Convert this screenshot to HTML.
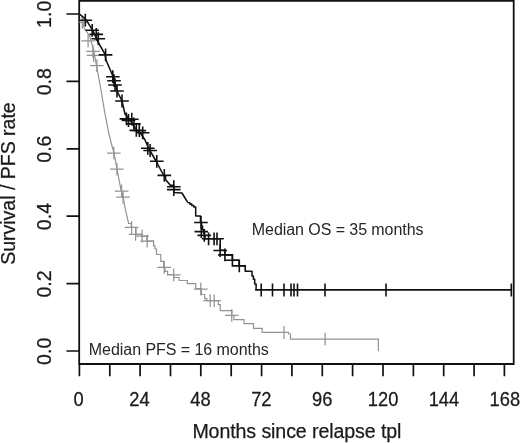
<!DOCTYPE html>
<html><head><meta charset="utf-8"><title>Survival / PFS</title>
<style>
html,body{margin:0;padding:0;background:#fff}
svg{display:block;filter:grayscale(1) blur(0.3px)}
text{font-family:"Liberation Sans",Arial,sans-serif;fill:#1a1a1a}
.ax{font-size:19.6px}
.tk{font-size:18.3px}
.ax text{stroke:#1a1a1a;stroke-width:0.25px}
.an{font-size:16px}
.an text{fill:#262626}
</style></head><body>
<svg width="520" height="443" viewBox="0 0 520 443">
<rect width="520" height="443" fill="#fff"/>
<path d="M79.2 0.75H513.7V364H79.2Z" fill="none" stroke="#111" stroke-width="1.8"/>
<clipPath id="cp"><rect x="79.2" y="0.75" width="434.5" height="363.25"/></clipPath>
<g clip-path="url(#cp)" fill="none">
<path d="M79.4 14.0L82.0 16.5L84.0 28.0L89.6 35.8L93.5 49.6L96.5 66.0L101.0 90.0L105.0 114.0L109.0 134.0L112.0 146.0L114.0 153.0L117.0 169.0L121.0 190.0L123.1 197.0L125.2 208.6L128.6 223.5H131.3V227.5M131.3 227.5H136.0V234.3H142.1V236.3H146.8V241.1H153.6V245.8H155.0V249.0H156.5V254.5H160.8V261.3H163.6V267.4H164.9V271.4H167.6V274.5H173.7V277.5H179.1V280.5H187.3V283.6H195.8V288.6H201.4V294.5H204.7V298.6H206.8V300.6H218.3V304.6H220.3V310.7H231.8V315.5H233.9V319.6H244.0V323.6H253.5V328.4H262.1V332.3H288.5V334.0H290.5V339.2H378.4V351.2" stroke="#939393" stroke-width="1.2"/>
<path d="M75.5 22.3h13.6M82.3 15.9v12.8M81.3 40.9h13.6M88.1 34.5v12.8M86.1 51.3h13.6M92.9 44.9v12.8M86.8 55.4h13.6M93.6 49.0v12.8M90.1 65.6h13.6M96.9 59.2v12.8M107.0 153.1h13.6M113.8 146.7v12.8M110.1 169.1h13.6M116.9 162.7v12.8M114.8 191.0h13.6M121.6 184.6v12.8M116.3 197.0h13.6M123.1 190.6v12.8M124.8 227.3h13.6M131.6 220.9v12.8M128.8 234.3h13.6M135.6 227.9v12.8M135.3 236.0h13.6M142.1 229.6v12.8M140.4 241.1h13.6M147.2 234.7v12.8M157.4 267.4h13.6M164.2 261.0v12.8M166.9 274.8h13.6M173.7 268.4v12.8M194.0 289.0h13.6M200.8 282.6v12.8M203.4 300.6h13.6M210.2 294.2v12.8M207.4 300.6h13.6M214.2 294.2v12.8M225.0 315.3h13.6M231.8 308.9v12.8M284.0 326.1v12.8M325.1 332.8v12.8" stroke="#939393" stroke-width="1.25"/>
<path d="M79.4 14.0L82.0 16.0L86.5 20.4L93.5 31.9L98.0 42.0L105.0 54.2L106.0 60.0L112.0 74.0L115.0 82.0L117.0 91.0L122.0 101.0L125.0 114.0L130.0 120.0L135.0 128.0L141.0 134.0L145.0 140.0L149.0 149.0L156.0 161.0L164.0 176.0H165.5V179.4L170.4 185.2H173.8V187.0V192.5L182.0 193.0L185.0 198.0L187.9 202.7M187.9 202.7H189.9V204.1H191.8V205.5H193.8V206.9H195.7V208.3V216.0H200.5V222.3H201.5V226.0H202.5V229.5H203.5V233.0H204.5V236.0H205.0V238.8H219.6H220.2V250.2H224.9V254.9H232.4V260.3H239.1V265.7H245.2V271.2H252.0V275.9H253.4V279.3H254.7V284.0H256.1V289.9" stroke="#111" stroke-width="1.55" stroke-linejoin="round"/>
<path d="M255.2 289.9H511.3" stroke="#111" stroke-width="1.9"/>
<path d="M78.5 20.2h13.6M85.3 13.8v12.8M85.4 30.3h13.6M92.2 23.9v12.8M89.5 34.4h13.6M96.3 28.0v12.8M91.5 38.7h13.6M98.3 32.3v12.8M98.8 54.9h13.6M105.6 48.5v12.8M106.0 76.7h13.6M112.8 70.3v12.8M107.2 80.7h13.6M114.0 74.3v12.8M108.2 85.0h13.6M115.0 78.6v12.8M110.2 91.0h13.6M117.0 84.6v12.8M115.2 101.0h13.6M122.0 94.6v12.8M119.6 118.9h13.6M126.4 112.5v12.8M121.7 120.5h13.6M128.5 114.1v12.8M125.0 119.2h13.6M131.8 112.8v12.8M127.1 123.9h13.6M133.9 117.5v12.8M129.5 130.4h13.6M136.3 124.0v12.8M132.5 130.6h13.6M139.3 124.2v12.8M135.9 132.8h13.6M142.7 126.4v12.8M141.0 148.3h13.6M147.8 141.9v12.8M143.3 150.5h13.6M150.1 144.1v12.8M150.0 161.3h13.6M156.8 154.9v12.8M157.5 175.4h13.6M164.3 169.0v12.8M167.0 186.7h13.6M173.8 180.3v12.8M167.0 189.6h13.6M173.8 183.2v12.8M194.2 222.5h13.6M201.0 216.1v12.8M194.5 231.6h13.6M201.3 225.2v12.8M197.5 235.4h13.6M204.3 229.0v12.8M201.8 238.8h13.6M208.6 232.4v12.8M207.3 238.8h13.6M214.1 232.4v12.8M210.2 238.8h13.6M217.0 232.4v12.8M213.4 250.5h13.6M220.2 244.1v12.8M218.1 254.9h13.6M224.9 248.5v12.8M225.6 260.3h13.6M232.4 253.9v12.8M232.5 265.9h13.6M239.3 259.5v12.8M261.2 283.6v12.8M272.5 283.6v12.8M284.0 283.6v12.8M291.0 283.6v12.8M294.0 283.6v12.8M297.5 283.6v12.8M325.0 283.6v12.8M386.0 283.6v12.8M511.3 283.6v12.8" stroke="#111" stroke-width="1.6"/>
</g>
<path d="M79.4 364v12.2M109.8 364v12.2M140.1 364v12.2M170.5 364v12.2M200.8 364v12.2M231.2 364v12.2M261.6 364v12.2M291.9 364v12.2M322.3 364v12.2M352.6 364v12.2M383.0 364v12.2M413.4 364v12.2M443.7 364v12.2M474.1 364v12.2M504.4 364v12.2M66.5 351.0h12.7M66.5 283.6h12.7M66.5 216.2h12.7M66.5 148.8h12.7M66.5 81.4h12.7M66.5 14.0h12.7" fill="none" stroke="#111" stroke-width="1.7"/>
<g class="ax"><text class="tk" transform="translate(78.6 405.7) scale(1 1.07)" text-anchor="middle">0</text><text class="tk" transform="translate(139.5 405.7) scale(1 1.07)" text-anchor="middle">24</text><text class="tk" transform="translate(200.4 405.7) scale(1 1.07)" text-anchor="middle">48</text><text class="tk" transform="translate(261.3 405.7) scale(1 1.07)" text-anchor="middle">72</text><text class="tk" transform="translate(322.2 405.7) scale(1 1.07)" text-anchor="middle">96</text><text class="tk" transform="translate(383.1 405.7) scale(1 1.07)" text-anchor="middle">120</text><text class="tk" transform="translate(443.9 405.7) scale(1 1.07)" text-anchor="middle">144</text><text class="tk" transform="translate(504.8 405.7) scale(1 1.07)" text-anchor="middle">168</text><text transform="translate(50.5 351.3) rotate(-90)" text-anchor="middle">0.0</text><text transform="translate(50.5 283.9) rotate(-90)" text-anchor="middle">0.2</text><text transform="translate(50.5 216.5) rotate(-90)" text-anchor="middle">0.4</text><text transform="translate(50.5 149.1) rotate(-90)" text-anchor="middle">0.6</text><text transform="translate(50.5 81.7) rotate(-90)" text-anchor="middle">0.8</text><text transform="translate(50.5 14.3) rotate(-90)" text-anchor="middle">1.0</text>
<text x="192.4" y="438" textLength="209" lengthAdjust="spacing">Months since relapse tpl</text>
<text transform="translate(15.3 264.8) rotate(-90)" textLength="162.5" lengthAdjust="spacing">Survival / PFS rate</text>
</g>
<g class="an">
<text x="251.8" y="235.2" textLength="171.7" lengthAdjust="spacing">Median OS = 35 months</text>
<text x="88.8" y="355" textLength="180" lengthAdjust="spacing">Median PFS = 16 months</text>
</g>
</svg>
</body></html>
